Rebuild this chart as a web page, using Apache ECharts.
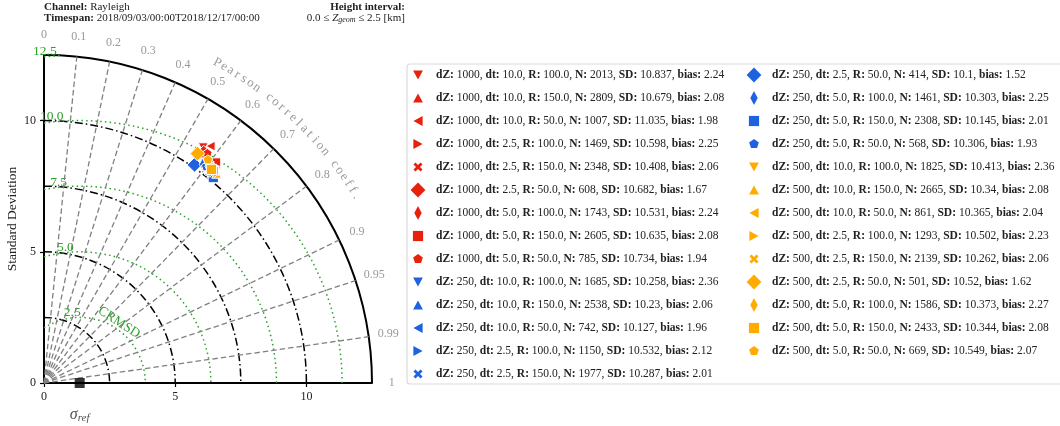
<!DOCTYPE html>
<html>
<head>
<meta charset="utf-8">
<script src="https://cdn.jsdelivr.net/npm/echarts@6/dist/echarts.min.js"></script>
<style>
  html, body { margin: 0; padding: 0; background: #fff; }
  #chart { width: 1060px; height: 426px; }
</style>
</head>
<body>
<div id="chart"></div>
<script>
// ---- data: one entry per configuration ----
const dZ   = [1000, 1000, 1000, 1000, 1000, 1000, 1000, 1000, 1000,
              250, 250, 250, 250, 250, 250, 250, 250, 250,
              500, 500, 500, 500, 500, 500, 500, 500, 500];
const dt   = [10.0, 10.0, 10.0, 2.5, 2.5, 2.5, 5.0, 5.0, 5.0,
              10.0, 10.0, 10.0, 2.5, 2.5, 2.5, 5.0, 5.0, 5.0,
              10.0, 10.0, 10.0, 2.5, 2.5, 2.5, 5.0, 5.0, 5.0];
const R    = [100.0, 150.0, 50.0, 100.0, 150.0, 50.0, 100.0, 150.0, 50.0,
              100.0, 150.0, 50.0, 100.0, 150.0, 50.0, 100.0, 150.0, 50.0,
              100.0, 150.0, 50.0, 100.0, 150.0, 50.0, 100.0, 150.0, 50.0];
const N    = [2013, 2809, 1007, 1469, 2348, 608, 1743, 2605, 785,
              1685, 2538, 742, 1150, 1977, 414, 1461, 2308, 568,
              1825, 2665, 861, 1293, 2139, 501, 1586, 2433, 669];
const SD   = [10.837, 10.679, 11.035, 10.598, 10.408, 10.682, 10.531, 10.635, 10.734,
              10.258, 10.23, 10.127, 10.532, 10.287, 10.1, 10.303, 10.145, 10.306,
              10.413, 10.34, 10.365, 10.502, 10.262, 10.52, 10.373, 10.344, 10.549];
const bias = [2.24, 2.08, 1.98, 2.25, 2.06, 1.67, 2.24, 2.08, 1.94,
              2.36, 2.06, 1.96, 2.12, 2.01, 1.52, 2.25, 2.01, 1.93,
              2.36, 2.08, 2.04, 2.23, 2.06, 1.62, 2.27, 2.08, 2.07];
// Pearson correlation of each configuration with the reference
const corr = [0.560, 0.585, 0.575, 0.600, 0.610, 0.570, 0.600, 0.615, 0.580,
              0.630, 0.625, 0.620, 0.600, 0.620, 0.568, 0.588, 0.636, 0.600,
              0.630, 0.636, 0.625, 0.615, 0.625, 0.556, 0.605, 0.617, 0.592];

// ---- reference and diagram grid ----
const sigmaRef   = 1.36;
const sdMax      = 12.5;
const sdRings    = [2.5, 5, 7.5, 10];
const sdTicks    = [0, 5, 10];
const crmsdRings = [2.5, 5, 7.5, 10, 12.5];
const corrTicks  = [0, 0.1, 0.2, 0.3, 0.4, 0.5, 0.6, 0.7, 0.8, 0.9, 0.95, 0.99, 1];
const corrTitle  = 'Pearson correlation coeff.';

// ---- styling ----
const SERIF = '"Liberation Serif", "Times New Roman", serif';
const groupColor = { 1000: '#e8210d', 250: '#1f62e0', 500: '#ffab00' };
const GREEN = '#2ca02c';
const GREY_TXT = '#9a9a9a';

// marker outlines drawn inside a fixed 20x20 frame (corner moves keep the frame)
const FRAME = 'M0 0 M20 20 ';
const markerPaths = [
  'path://' + FRAME + 'M5.1 5.4 L14.9 5.4 L10 14.6 Z',                  // triangle down
  'path://' + FRAME + 'M10 5.4 L14.9 14.6 L5.1 14.6 Z',                 // triangle up
  'path://' + FRAME + 'M5.4 10 L14.6 5.1 L14.6 14.9 Z',                 // triangle left
  'path://' + FRAME + 'M14.6 10 L5.4 5.1 L5.4 14.9 Z',                  // triangle right
  'path://' + FRAME + 'M11.98 10 L14.53 12.55 L12.55 14.53 L10 11.98 L7.45 14.53 L5.47 12.55 ' +
                      'L8.02 10 L5.47 7.45 L7.45 5.47 L10 8.02 L12.55 5.47 L14.53 7.45 Z', // X
  'path://' + FRAME + 'M10 2.6 L17.4 10 L10 17.4 L2.6 10 Z',            // diamond
  'path://' + FRAME + 'M10 3 L13.7 10 L10 17 L6.3 10 Z',                // thin diamond
  'path://' + FRAME + 'M4.9 4.9 L15.1 4.9 L15.1 15.1 L4.9 15.1 Z',      // square
  'path://' + FRAME + 'M10 4.9 L14.85 8.42 L13 14.1 L7 14.1 L5.15 8.42 Z' // pentagon
];

const names = dZ.map((z, i) =>
  `dZ: ${z}, dt: ${dt[i].toFixed(1)}, R: ${R[i].toFixed(1)}, N: ${N[i]}, SD: ${SD[i]}, bias: ${bias[i].toFixed(2)}`);
const markerOf = i => markerPaths[i % markerPaths.length];

const deg = Math.PI / 180;
const toXY = (r, c) => [r * c, r * Math.sqrt(1 - c * c)];

// ---- decorations drawn through the cartesian scales ----
const arcStyle = (stroke, width, dash) => ({ stroke, fill: 'none', lineWidth: width, lineDash: dash || null });

const sdRingSeries = {
  type: 'custom', z: 1, silent: true, clip: false,
  data: sdRings.concat([sdMax]).map(r => [r]),
  renderItem: (p, api) => {
    const r = api.value(0);
    const o = api.coord([0, 0]);
    const pr = api.size([r, 0])[0];
    const outer = r === sdMax;
    return {
      type: 'arc',
      shape: { cx: o[0], cy: o[1], r: pr, startAngle: -Math.PI / 2, endAngle: 0, clockwise: true },
      style: outer ? arcStyle('#000', 2) : arcStyle('#000', 1.5, [8, 3, 1.5, 3])
    };
  }
};

const crmsdSeries = {
  type: 'custom', z: 1, silent: true, clip: false,
  data: crmsdRings.map(r => [r]),
  renderItem: (p, api) => {
    const Rr = api.value(0);
    const c = sigmaRef;
    const o = api.coord([c, 0]);
    const pr = api.size([Rr, 0])[0];
    const phiMax = Math.acos(Math.max(-1, -c / Rr));
    const cosMin = (sdMax * sdMax - c * c - Rr * Rr) / (2 * c * Rr);
    const phiMin = cosMin >= 1 ? 0 : Math.acos(cosMin);
    const la = 96 * deg;
    const lp = api.coord([c + (Rr + 0.2) * Math.cos(la), (Rr + 0.2) * Math.sin(la)]);
    return {
      type: 'group',
      children: [
        { type: 'arc',
          shape: { cx: o[0], cy: o[1], r: pr, startAngle: -phiMax, endAngle: -phiMin, clockwise: true },
          style: arcStyle(GREEN, 1.5, [1.5, 3.2]) },
        { type: 'text', x: lp[0], y: lp[1],
          style: { text: Rr.toFixed(1), fill: GREEN, fontFamily: SERIF, fontSize: 13.5,
                   align: 'center', verticalAlign: 'middle' } }
      ]
    };
  }
};

const crmsdTitleSeries = {
  type: 'custom', z: 1, silent: true, clip: false,
  data: [[crmsdRings[0]]],
  renderItem: (p, api) => {
    const a = 57 * deg, r = api.value(0) + 0.25;
    const pt = api.coord([sigmaRef + r * Math.cos(a), r * Math.sin(a)]);
    return { type: 'text', x: pt[0], y: pt[1], rotation: a - Math.PI / 2,
             style: { text: 'CRMSD', fill: GREEN, fontFamily: SERIF, fontSize: 13.5,
                      align: 'center', verticalAlign: 'middle' } };
  }
};

const corrLineSeries = {
  type: 'custom', z: 1, silent: true, clip: false,
  data: corrTicks.filter(c => c > 0 && c < 1).map(c => [c]),
  renderItem: (p, api) => {
    const c = api.value(0);
    const o = api.coord([0, 0]);
    const e = api.coord(toXY(sdMax, c));
    return { type: 'line', shape: { x1: o[0], y1: o[1], x2: e[0], y2: e[1] },
             style: { stroke: '#808080', lineWidth: 1.3, lineDash: [5.5, 3] } };
  }
};

const corrLabelSeries = {
  type: 'custom', z: 1, silent: true, clip: false,
  data: corrTicks.map(c => [c]),
  renderItem: (p, api) => {
    const c = api.value(0);
    const pt = api.coord(toXY(13.25, c));
    return { type: 'text', x: pt[0], y: pt[1],
             style: { text: String(c), fill: GREY_TXT, fontFamily: SERIF, fontSize: 12,
                      align: 'center', verticalAlign: 'middle' } };
  }
};

const corrTitleSeries = {
  type: 'custom', z: 1, silent: true, clip: false,
  data: corrTitle.split('').map((ch, i) => [i]),
  renderItem: (p, api) => {
    const i = api.value(0);
    const n = corrTitle.length;
    const a = (61.6 - i * (30.8 / (n - 1))) * deg;
    const r = 13.88;
    const pt = api.coord([r * Math.cos(a), r * Math.sin(a)]);
    return { type: 'text', x: pt[0], y: pt[1], rotation: a - Math.PI / 2,
             style: { text: corrTitle[i], fill: GREY_TXT, fontFamily: SERIF, fontSize: 13,
                      align: 'center', verticalAlign: 'middle' } };
  }
};

// ---- configurations ----
const pointSeries = names.map((nm, i) => ({
  type: 'scatter', name: nm, z: 3, clip: false,
  symbol: markerOf(i), symbolSize: 20,
  itemStyle: { color: groupColor[dZ[i]], borderColor: '#fff', borderWidth: 1, opacity: 1 },
  data: [toXY(SD[i], corr[i])]
}));

const refSeries = {
  type: 'scatter', name: 'ref', z: 4, clip: false,
  symbol: 'rect', symbolSize: 10,
  itemStyle: { color: '#000' },
  data: [[sigmaRef, 0]],
  label: {
    show: true, position: 'bottom', distance: 18,
    formatter: '{s|σ}{r|ref}',
    rich: {
      s: { fontFamily: SERIF, fontStyle: 'italic', fontSize: 16, color: '#222', verticalAlign: 'middle', lineHeight: 18 },
      r: { fontFamily: SERIF, fontStyle: 'italic', fontSize: 11, color: '#222', verticalAlign: 'bottom' }
    }
  }
};

const legendText = {
  fontFamily: SERIF, fontSize: 11.5, color: '#222',
  rich: { b: { fontFamily: SERIF, fontSize: 11.5, fontWeight: 'bold', color: '#222' } }
};
const legendFormatter = nm => nm.replace(/(dZ:|dt:|R:|N:|SD:|bias:)/g, '{b|$1}');
const legendBase = {
  orient: 'vertical', top: 65, padding: 0, itemGap: 3,
  itemWidth: 26, itemHeight: 20, selectedMode: false,
  itemStyle: { borderWidth: 0 },
  textStyle: legendText, formatter: legendFormatter
};
const splitAt = 14;

const axisCommon = {
  type: 'value', min: 0, max: sdMax, interval: 5,
  axisLine: { show: true, onZero: false, lineStyle: { color: '#000', width: 2 } },
  axisTick: { show: true, length: 4, customValues: sdTicks, lineStyle: { color: '#000', width: 1.2 } },
  axisLabel: { customValues: sdTicks, color: '#222', fontFamily: SERIF, fontSize: 12, margin: 8 },
  splitLine: { show: false }
};

const option = {
  animation: false,
  backgroundColor: '#fff',
  grid: { left: 44, top: 55, width: 328, height: 328 },
  xAxis: Object.assign({}, axisCommon),
  yAxis: Object.assign({}, axisCommon, {
    name: 'Standard Deviation', nameLocation: 'middle', nameGap: 25,
    nameTextStyle: { fontFamily: SERIF, fontSize: 13.5, color: '#222' }
  }),
  legend: [
    Object.assign({}, legendBase, { left: 408,
      data: names.slice(0, splitAt).map((nm, k) => ({ name: nm, icon: markerOf(k) })) }),
    Object.assign({}, legendBase, { left: 744,
      data: names.slice(splitAt).map((nm, k) => ({ name: nm, icon: markerOf(k + splitAt) })) })
  ],
  graphic: [
    { type: 'rect', shape: { x: 407, y: 64, width: 700, height: 320, r: 3 }, z: -1,
      style: { fill: '#fff', stroke: '#dadada', lineWidth: 1.2 } },
    { type: 'text', x: 44, y: 7,
      style: { text: '{b|Channel:} Rayleigh', fontFamily: SERIF, fontSize: 11, fill: '#222',
               verticalAlign: 'middle', rich: { b: { fontFamily: SERIF, fontSize: 11, fontWeight: 'bold' } } } },
    { type: 'text', x: 44, y: 18,
      style: { text: '{b|Timespan:} 2018/09/03/00:00T2018/12/17/00:00', fontFamily: SERIF, fontSize: 11, fill: '#222',
               verticalAlign: 'middle', rich: { b: { fontFamily: SERIF, fontSize: 11, fontWeight: 'bold' } } } },
    { type: 'text', x: 405, y: 7,
      style: { text: 'Height interval:', fontFamily: SERIF, fontSize: 11, fontWeight: 'bold', fill: '#222',
               align: 'right', verticalAlign: 'middle' } },
    { type: 'text', x: 405, y: 18,
      style: { text: '0.0 ≤ {i|Z}{s|geom} ≤ 2.5 [km]', fontFamily: SERIF, fontSize: 11, fill: '#222',
               align: 'right', verticalAlign: 'middle',
               rich: { i: { fontFamily: SERIF, fontSize: 11, fontStyle: 'italic' },
                       s: { fontFamily: SERIF, fontSize: 8, fontStyle: 'italic', verticalAlign: 'bottom' } } } }
  ],
  series: [sdRingSeries, crmsdSeries, crmsdTitleSeries, corrLineSeries, corrLabelSeries, corrTitleSeries]
    .concat(pointSeries, [refSeries])
};

const chart = echarts.init(document.getElementById('chart'));
chart.setOption(option);
</script>
</body>
</html>
